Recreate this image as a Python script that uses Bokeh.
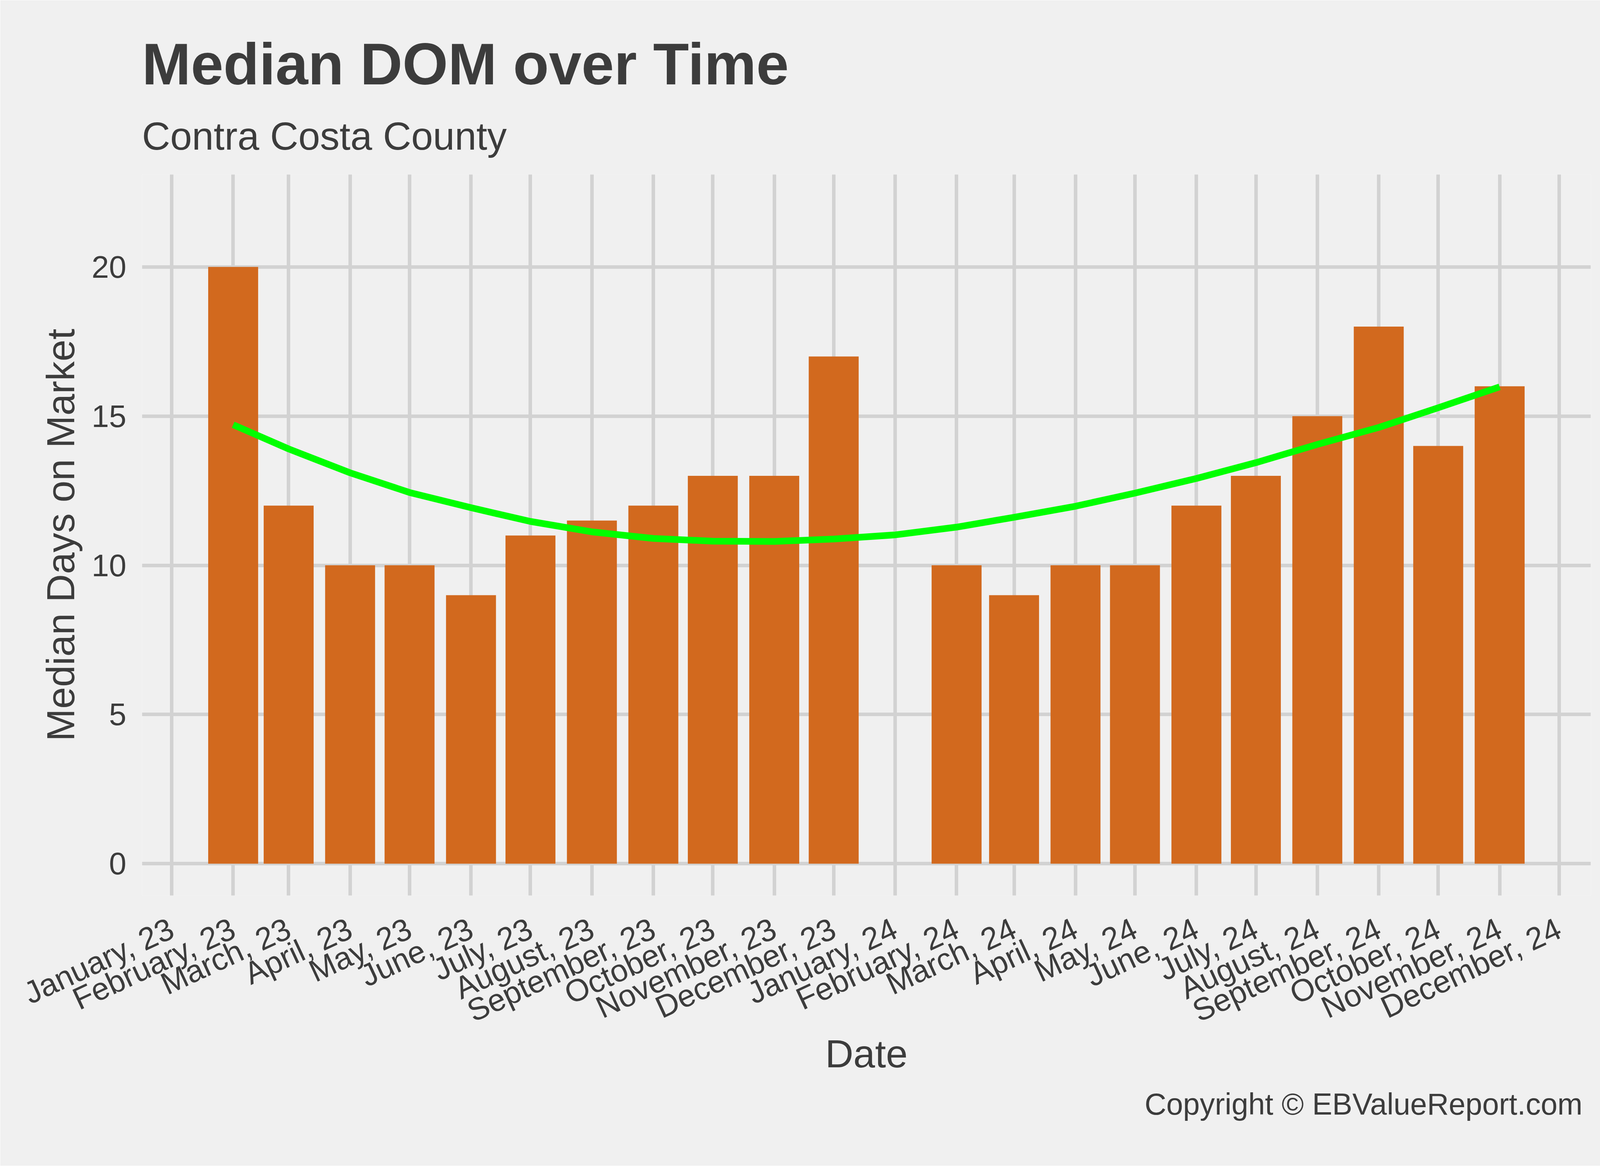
import math
from datetime import datetime
import numpy as np
import pandas as pd
from bokeh.plotting import figure
from bokeh.models import Range1d, FixedTicker, DatetimeTickFormatter, Title, ColumnDataSource
from bokeh.embed import file_html
from bokeh.resources import INLINE

# ---------------- data ----------------
bar_months = ["2023-02-01", "2023-03-01", "2023-04-01", "2023-05-01", "2023-06-01",
              "2023-07-01", "2023-08-01", "2023-09-01", "2023-10-01", "2023-11-01",
              "2023-12-01", "2024-02-01", "2024-03-01", "2024-04-01", "2024-05-01",
              "2024-06-01", "2024-07-01", "2024-08-01", "2024-09-01", "2024-10-01",
              "2024-11-01"]
bar_values = [20, 12, 10, 10, 9, 11, 11.5, 12, 13, 13, 17,
              10, 9, 10, 10, 12, 13, 15, 18, 14, 16]

trend_months = ["2023-02-01", "2023-03-01", "2023-04-01", "2023-05-01", "2023-06-01",
                "2023-07-01", "2023-08-01", "2023-09-01", "2023-10-01", "2023-11-01",
                "2023-12-01", "2024-01-01", "2024-02-01", "2024-03-01", "2024-04-01",
                "2024-05-01", "2024-06-01", "2024-07-01", "2024-08-01", "2024-09-01",
                "2024-10-01", "2024-11-01"]
trend_values = [14.71, 13.90, 13.10, 12.44, 11.93, 11.47, 11.12, 10.90, 10.81, 10.80,
                10.88, 11.02, 11.28, 11.61, 11.98, 12.42, 12.91, 13.44, 14.05, 14.62,
                15.28, 15.98]

tick_months = ["2023-01-01", "2023-02-01", "2023-03-01", "2023-04-01", "2023-05-01",
               "2023-06-01", "2023-07-01", "2023-08-01", "2023-09-01", "2023-10-01",
               "2023-11-01", "2023-12-01", "2024-01-01", "2024-02-01", "2024-03-01",
               "2024-04-01", "2024-05-01", "2024-06-01", "2024-07-01", "2024-08-01",
               "2024-09-01", "2024-10-01", "2024-11-01", "2024-12-01"]
y_ticks = [0, 5, 10, 15, 20]

title_text = "Median DOM over Time"
subtitle_text = "Contra Costa County"
caption_text = "Copyright  \u00a9 EBValueReport.com"
x_label = "Date"
y_label = "Median Days on Market"

# ---------------- styling ----------------
BG = "#F0F0F0"
GRID = "#D2D2D2"
TEXT = "#3C3C3C"
BAR = "#D2691E"
TREND = "#00FF00"
FONT = "Liberation Sans"

DAY_MS = 86400000
bar_width = 25.2 * DAY_MS

bars = ColumnDataSource(dict(x=pd.to_datetime(bar_months), top=bar_values))
trend = ColumnDataSource(dict(x=pd.to_datetime(trend_months), y=trend_values))
tick_ms = [int(v) for v in np.array(tick_months, dtype="datetime64[ms]").astype("int64")]

p = figure(width=4184, height=2984, frame_width=3709, frame_height=1846,
           x_axis_type="datetime",
           output_backend="svg", toolbar_location=None,
           x_range=Range1d(datetime(2022, 12, 17), datetime(2024, 12, 17)),
           y_range=Range1d(-1.07, 23.1),
           min_border_left=363, min_border_right=112,
           min_border_top=446, min_border_bottom=692,
           background_fill_color=BG, border_fill_color=BG,
           outline_line_color=None)

p.vbar(x="x", top="top", bottom=0, width=bar_width, source=bars,
       fill_color=BAR, line_color=None)
p.line(x="x", y="y", source=trend, line_color=TREND, line_width=17,
       line_join="round")

xt = FixedTicker(ticks=tick_ms)
yt = FixedTicker(ticks=y_ticks)
p.xaxis.ticker = xt
p.xgrid.ticker = xt
p.yaxis.ticker = yt
p.ygrid.ticker = yt
fmt = "%B, %y"
p.xaxis.formatter = DatetimeTickFormatter(
    microseconds=fmt, milliseconds=fmt, seconds=fmt, minsec=fmt, minutes=fmt,
    hourmin=fmt, hours=fmt, days=fmt, months=fmt, years=fmt)

for g in (p.xgrid, p.ygrid):
    g.grid_line_color = GRID
    g.grid_line_width = 9
    g.minor_grid_line_color = None

for ax in (p.xaxis[0], p.yaxis[0]):
    ax.axis_line_color = None
    ax.major_tick_line_color = None
    ax.minor_tick_line_color = None
    ax.major_tick_out = 0
    ax.major_tick_in = 0
    ax.minor_tick_out = 0
    ax.minor_tick_in = 0
    ax.major_label_text_font = FONT
    ax.major_label_text_font_size = "80px"
    ax.major_label_text_color = TEXT
    ax.axis_label_text_font = FONT
    ax.axis_label_text_font_size = "100px"
    ax.axis_label_text_font_style = "normal"
    ax.axis_label_text_color = TEXT

p.xaxis.axis_label = x_label
p.yaxis.axis_label = y_label
p.xaxis.major_label_orientation = math.radians(25)
p.xaxis.major_label_standoff = 80
p.xaxis.axis_label_standoff = -35
p.yaxis.major_label_standoff = 40
p.yaxis.axis_label_standoff = 21

p.title.text = ""
sub = Title(text=subtitle_text, align="left", text_font=FONT, text_font_size="100px",
            text_font_style="normal", text_color=TEXT, standoff=85)
main = Title(text=title_text, align="left", text_font=FONT, text_font_size="150px",
             text_font_style="bold", text_color=TEXT, standoff=0)
p.add_layout(sub, "above")
p.add_layout(main, "above")

cap = Title(text=caption_text, align="right", text_font=FONT, text_font_size="77px",
            text_font_style="normal", text_color=TEXT, standoff=49)
p.add_layout(cap, "below")

open("out.html", "w").write(file_html(p, INLINE))
